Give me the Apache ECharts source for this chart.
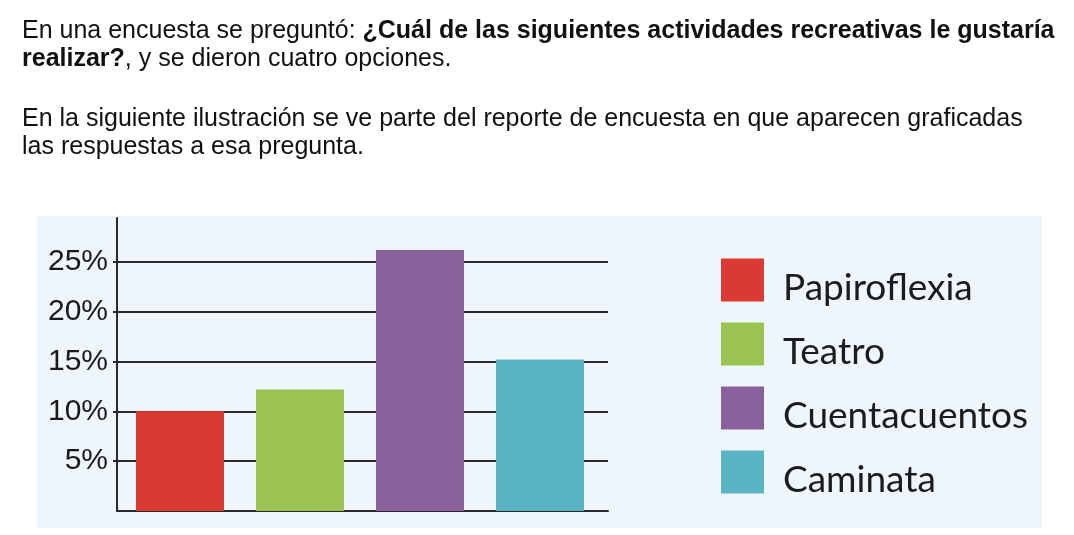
<!DOCTYPE html>
<html>
<head>
<meta charset="utf-8">
<script src="https://cdn.jsdelivr.net/npm/echarts@6/dist/echarts.min.js"></script>
<style>
  html, body { margin: 0; padding: 0; background: #fff; }
  #chart { width: 1074px; height: 535px; }
</style>
</head>
<body>
<div id="chart"></div>
<script>
// encuesta: actividades recreativas
const categories = ['Papiroflexia', 'Teatro', 'Cuentacuentos', 'Caminata']
const percents = [10, 12.2, 26.2, 15.2]
const colors = ['#d93a33', '#9bc354', '#8a619b', '#59b4c4']
const yTicks = [5, 10, 15, 20, 25]

const chart = echarts.init(document.getElementById('chart'), null, {renderer: 'canvas'})

// one series per category so the legend lists them; barGap -100% keeps them centred
const series = categories.map((name, i) => ({
    name: name,
    type: 'bar',
    xAxisIndex: 1,
    yAxisIndex: 1,
    barWidth: 88,
    barGap: '-100%',
    itemStyle: { color: colors[i] },
    data: categories.map((c, j) => (j === i ? percents[i] : '-'))
}))

const txt = { fontFamily: 'Liberation Sans', fontSize: 25, color: '#111', lineHeight: 28 }
const lineCol = '#2a2a2a'

const option = {
    animation: false,
    backgroundColor: '#fff',
    title: [
        {
            left: 22, top: 17, padding: 0,
            textStyle: {
                rich: {
                    n: Object.assign({ fontWeight: 'normal' }, txt),
                    b: Object.assign({ fontWeight: 'bold' }, txt)
                }
            },
            text: '{n|En una encuesta se preguntó: }{b|¿Cuál de las siguientes actividades recreativas le gustaría}\n{b|realizar?}{n|, y se dieron cuatro opciones.}'
        },
        {
            left: 22, top: 105, padding: 0,
            textStyle: Object.assign({ fontWeight: 'normal' }, txt),
            text: 'En la siguiente ilustración se ve parte del reporte de encuesta en que aparecen graficadas\nlas respuestas a esa pregunta.'
        }
    ],
    graphic: [
        { type: 'rect', z: -10, shape: { x: 37, y: 216, width: 1005, height: 312 }, style: { fill: '#eff6fb' } }
    ],
    legend: {
        orient: 'vertical',
        left: 721,
        top: 253,
        padding: 0,
        itemWidth: 43,
        itemHeight: 43,
        itemGap: 10,
        icon: 'rect',
        data: categories,
        formatter: name => '{t|' + name + '}',
        textStyle: {
            rich: {
                t: { fontFamily: 'Lato', fontSize: 37, color: '#1c1c1c', lineHeight: 30, padding: [17, 0, 0, 14] }
            }
        }
    },
    grid: [
        { left: 117, top: 218, width: 491, height: 293 },
        { left: 120, top: 218, width: 480, height: 293 }
    ],
    xAxis: [
        {
            type: 'category', gridIndex: 0, data: categories,
            axisLine: { show: true, lineStyle: { color: lineCol, width: 2 } },
            axisTick: { show: false },
            axisLabel: { show: false }
        },
        { type: 'category', gridIndex: 1, data: categories, show: false }
    ],
    yAxis: [
        {
            type: 'value',
            gridIndex: 0,
            min: 0,
            max: 29.4,
            interval: 5,
            axisLine: { show: true, lineStyle: { color: lineCol, width: 2 } },
            axisTick: { show: true, length: 4, customValues: yTicks, lineStyle: { color: lineCol, width: 2 } },
            splitLine: { show: true, lineStyle: { color: lineCol, width: 2 } },
            axisLabel: {
                margin: 9,
                customValues: yTicks,
                fontFamily: 'Liberation Sans',
                fontSize: 30,
                color: '#1a1a1a',
                formatter: v => v + '%'
            }
        },
        { type: 'value', gridIndex: 1, min: 0, max: 29.4, show: false }
    ],
    series: series
}

chart.setOption(option)
</script>
</body>
</html>
